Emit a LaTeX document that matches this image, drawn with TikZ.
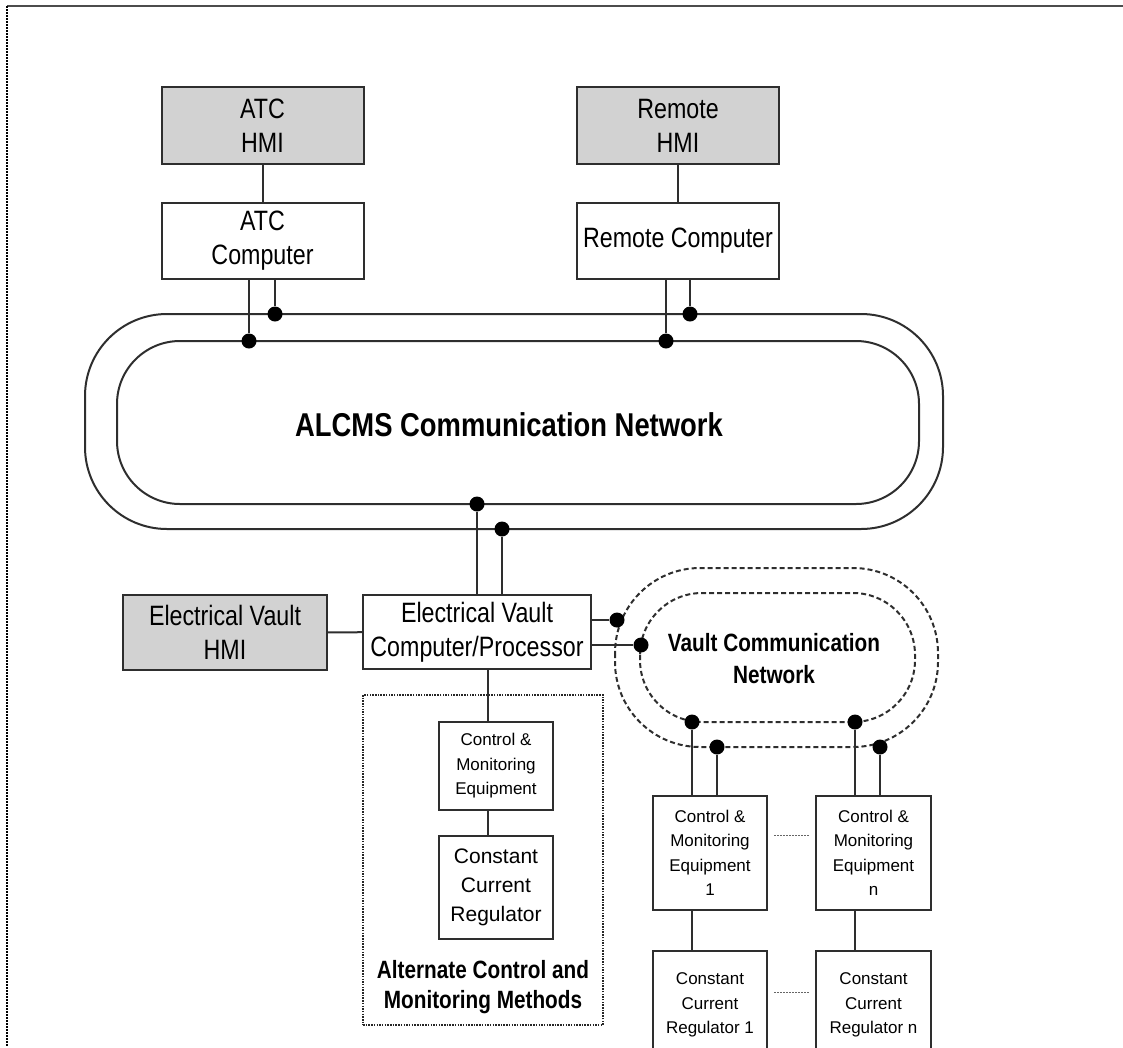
\documentclass[tikz,border=0pt]{standalone}
\usepackage{fontspec}
\setmainfont{Liberation Sans}
\newfontfamily\narrowsans{Liberation Sans}[FakeStretch=0.83]
\usetikzlibrary{positioning}
\definecolor{cLine}{HTML}{2E2E2E}
\definecolor{cHmi}{HTML}{D2D2D2}

\begin{document}
\begin{tikzpicture}[x=1pt, y=-1pt,
    box/.style={draw=cLine, line width=2pt, inner sep=2pt, align=center, fill=white},
    hmi/.style={box, fill=cHmi, minimum width=202pt, minimum height=77pt, font=\narrowsans\fontsize{28}{34}\selectfont},
    unit/.style={box, minimum width=202pt, minimum height=76pt, font=\narrowsans\fontsize{28}{34}\selectfont},
    equip/.style={box, minimum width=114pt, font=\fontsize{17}{24.5}\selectfont},
    altbox/.style={draw=black!85, line width=1.8pt, dash pattern=on 1.5pt off 1.2pt, minimum width=240pt, minimum height=330pt},
    wire/.style={draw=cLine, line width=2pt},
    ring/.style={draw=cLine, line width=2pt},
    vring/.style={ring, dash pattern=on 5pt off 3pt},
    dot/.style={circle, fill=black, inner sep=0pt, minimum size=15pt},
    netlbl/.style={font=\narrowsans\bfseries\fontsize{33}{38}\selectfont},
    grplbl/.style={font=\narrowsans\bfseries\fontsize{25}{30}\selectfont, align=center},
    gapline/.style={draw=black!60, line width=0.8pt, dash pattern=on 2pt off 1pt, shorten <=6pt, shorten >=6pt}
]
\useasboundingbox (0,0) rectangle (1123,1047);
\clip (0,0) rectangle (1123,1047);

% frame
\draw[black!70, line width=2pt] (7,6) -- (1123,6);
\draw[black, line width=1.5pt, dash pattern=on 1.5pt off 1.5pt] (7,6) -- (7,1047);

% top stations
\node[hmi] (atchmi) at (262.5,125.5) {ATC\\HMI};
\node[unit, below=37pt of atchmi] (atcpc) {ATC\\Computer};
\node[hmi] (remhmi) at (678,125.5) {Remote\\HMI};
\node[unit, below=37pt of remhmi] (rempc) {Remote Computer};
\draw[wire] (atchmi) -- (atcpc);
\draw[wire] (remhmi) -- (rempc);

% ALCMS ring
\draw[ring, rounded corners=82pt] (85,314) rectangle (943,529);
\draw[ring, rounded corners=63pt] (117,341) rectangle (919,504);
\node[netlbl] (alcms) at (509,425) {ALCMS Communication Network};

\node[dot] (atcin) at (249,341) {};
\node[dot] (atcout) at (275,314) {};
\node[dot] (remin) at (666,341) {};
\node[dot] (remout) at (690,314) {};
\draw[wire] (atcpc.south -| atcin) -- (atcin);
\draw[wire] (atcpc.south -| atcout) -- (atcout);
\draw[wire] (rempc.south -| remin) -- (remin);
\draw[wire] (rempc.south -| remout) -- (remout);

% electrical vault
\node[hmi, minimum width=204pt, minimum height=75pt] (evhmi) at (225,632.5) {Electrical Vault\\HMI};
\node[unit, minimum width=228pt, minimum height=74pt] (evc) at (477,632) {Electrical Vault\\Computer/Processor};
\draw[wire] (evhmi) -- (evc);

\node[dot] (evin) at (477,504) {};
\node[dot] (evout) at (502,529) {};
\draw[wire] (evin) -- (evin |- evc.north);
\draw[wire] (evout) -- (evout |- evc.north);

% vault ring
\draw[vring, rounded corners=85pt] (615,568) rectangle (938,747);
\draw[vring, rounded corners=62pt] (640,593) rectangle (915,722);
\node[grplbl, font=\narrowsans\bfseries\fontsize{25}{32}\selectfont] (vaultnet) at (774,659) {Vault Communication\\Network};

\node[dot] (vout) at (617,620) {};
\node[dot] (vin) at (641,645) {};
\draw[wire] (evc.east |- vout) -- (vout);
\draw[wire] (evc.east |- vin) -- (vin);

% alternate methods
\node[altbox] (alt) at (483,860) {};
\node[equip, minimum height=88pt] (altcme) at (496,766) {Control \&\\Monitoring\\Equipment};
\node[equip, minimum height=103pt, font=\fontsize{21}{29}\selectfont, below=24pt of altcme] (altccr) {Constant\\Current\\Regulator};
\node[grplbl] (altlbl) at (483,987) {Alternate Control and\\Monitoring Methods};
\coordinate (altlink) at (488,669);
\draw[wire] (altlink) -- (altlink |- altcme.north);
\draw[wire] (altlink |- altcme.south) -- (altlink |- altccr.north);

% field equipment
\node[dot] (c1in) at (692,722) {};
\node[dot] (c1out) at (717,747) {};
\node[dot] (cnin) at (855,722) {};
\node[dot] (cnout) at (880,747) {};

\node[equip, minimum height=114pt] (cme1) at (710,853) {Control \&\\Monitoring\\Equipment\\1};
\node[equip, minimum height=114pt, minimum width=115pt] (cmen) at (873.5,853) {Control \&\\Monitoring\\Equipment\\n};
\node[equip, minimum height=108pt, below=39pt of cme1] (ccr1) {Constant\\Current\\Regulator 1};
\node[equip, minimum height=108pt, minimum width=115pt, below=39pt of cmen] (ccrn) {Constant\\Current\\Regulator n};

\draw[wire] (c1in) -- (c1in |- cme1.north);
\draw[wire] (c1out) -- (c1out |- cme1.north);
\draw[wire] (cnin) -- (cnin |- cmen.north);
\draw[wire] (cnout) -- (cnout |- cmen.north);
\draw[wire] (c1in |- cme1.south) -- (c1in |- ccr1.north);
\draw[wire] (cnin |- cmen.south) -- (cnin |- ccrn.north);

\draw[gapline] ([yshift=18pt]cme1.east) -- ([yshift=18pt]cmen.west);
\draw[gapline] ([yshift=13pt]ccr1.east) -- ([yshift=13pt]ccrn.west);

\end{tikzpicture}
\end{document}
